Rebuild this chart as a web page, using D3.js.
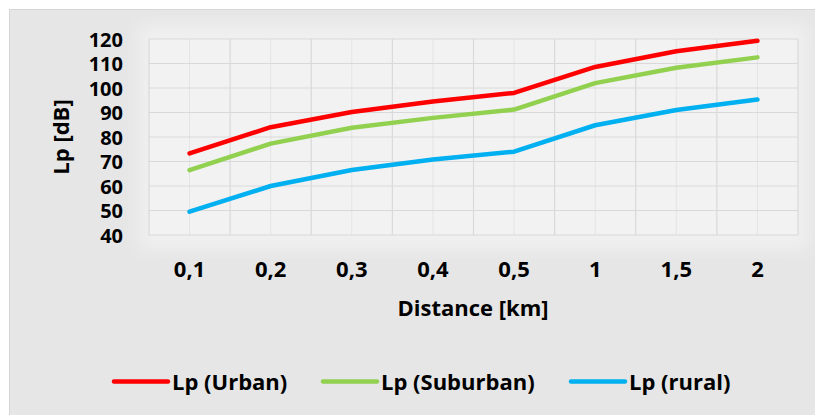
<!DOCTYPE html>
<html>
<head>
<meta charset="utf-8">
<script src="https://cdn.jsdelivr.net/npm/d3@7"></script>
<style>
  html, body { margin: 0; padding: 0; background: #ffffff; }
  svg { display: block; }
  text { font-family: "Open Sans", Lato, sans-serif; font-weight: bold; fill: #000; }
</style>
</head>
<body>
<svg id="chart" width="815" height="415"></svg>
<script>
const categories = ["0,1", "0,2", "0,3", "0,4", "0,5", "1", "1,5", "2"];
const urban    = [73.3, 84.0, 90.2, 94.5, 98.0, 108.6, 115.0, 119.3];
const suburban = [66.5, 77.3, 83.8, 87.8, 91.2, 102.0, 108.3, 112.5];
const rural    = [49.5, 60.0, 66.5, 70.8, 74.0, 84.8, 91.0, 95.3];
const yTicks   = [40, 50, 60, 70, 80, 90, 100, 110, 120];
const seriesNames  = ["Lp (Urban)", "Lp (Suburban)", "Lp (rural)"];
const seriesColors = ["#ff0000", "#92d050", "#00b0f0"];
const seriesData   = [urban, suburban, rural];

const svg = d3.select("#chart");
const W = 815, H = 415;
const plot = { left: 149, top: 39, right: 798, bottom: 235 };

// defs
const defs = svg.append("defs");
const blur = defs.append("filter").attr("id", "glow").attr("x", "-20%").attr("y", "-20%").attr("width", "140%").attr("height", "140%");
blur.append("feGaussianBlur").attr("stdDeviation", 8);

// outer chart background
svg.append("rect").attr("x", 9.5).attr("y", 9.5).attr("width", W).attr("height", H)
  .attr("fill", "#e6e6e6").attr("stroke", "#d6d6d6").attr("stroke-width", 1);

// soft lighter glow around plot area
svg.append("rect").attr("x", plot.left - 10).attr("y", plot.top - 14)
  .attr("width", plot.right - plot.left + 20).attr("height", plot.bottom - plot.top + 28)
  .attr("fill", "#f0f0f0").attr("filter", "url(#glow)");

// plot background
svg.append("rect").attr("x", plot.left).attr("y", plot.top)
  .attr("width", plot.right - plot.left).attr("height", plot.bottom - plot.top)
  .attr("fill", "#f2f2f2");

const x = d3.scaleBand().domain(categories).range([plot.left, plot.right]).paddingInner(0).paddingOuter(0);
const y = d3.scaleLinear().domain([40, 120]).range([plot.bottom, plot.top]);
const cx = d => x(d) + x.bandwidth() / 2;

const grid = svg.append("g");
// minor vertical gridlines at category centers
categories.forEach(c => {
  grid.append("line").attr("x1", cx(c)).attr("x2", cx(c)).attr("y1", plot.top).attr("y2", plot.bottom)
    .attr("stroke", "#e4e4e4").attr("stroke-width", 1);
});
// major vertical gridlines at category boundaries
categories.forEach(c => {
  const xx = x(c);
  grid.append("line").attr("x1", xx).attr("x2", xx).attr("y1", plot.top).attr("y2", plot.bottom)
    .attr("stroke", "#d9d9d9").attr("stroke-width", 1.2);
});
grid.append("line").attr("x1", plot.right).attr("x2", plot.right).attr("y1", plot.top).attr("y2", plot.bottom)
  .attr("stroke", "#d9d9d9").attr("stroke-width", 1.2);
// horizontal gridlines
yTicks.forEach(t => {
  grid.append("line").attr("x1", plot.left).attr("x2", plot.right).attr("y1", y(t)).attr("y2", y(t))
    .attr("stroke", "#d9d9d9").attr("stroke-width", 1.2);
});

// Y axis labels
const yAxis = d3.axisLeft(y).tickValues(yTicks).tickSize(0).tickPadding(0).tickFormat(d3.format("d"));
const yg = svg.append("g").attr("transform", `translate(${123},0)`).call(yAxis);
yg.select(".domain").remove();
yg.selectAll("text").attr("font-size", 20).attr("font-family", "'Liberation Sans', Arial, sans-serif")
  .attr("font-weight", "bold").attr("fill", "#000").attr("dy", "0.36em");

// X axis labels
const xAxis = d3.axisBottom(x).tickSize(0).tickPadding(0);
const xg = svg.append("g").attr("transform", `translate(0,${277})`).call(xAxis);
xg.select(".domain").remove();
xg.selectAll("text").attr("font-size", 22).attr("font-family", "'Open Sans', Lato, sans-serif")
  .attr("font-weight", "bold").attr("fill", "#000").attr("dy", 0);

// Axis titles
svg.append("text").attr("transform", "translate(69,137) rotate(-90)").attr("text-anchor", "middle")
  .attr("font-size", 22).text("Lp [dB]");
svg.append("text").attr("x", 473).attr("y", 316).attr("text-anchor", "middle")
  .attr("font-size", 22).text("Distance [km]");

// Lines
const line = d3.line().x((d, i) => cx(categories[i])).y(d => y(d));
seriesData.forEach((s, k) => {
  svg.append("path").datum(s).attr("d", line).attr("fill", "none")
    .attr("stroke", seriesColors[k]).attr("stroke-width", 4.5)
    .attr("stroke-linecap", "round").attr("stroke-linejoin", "round");
});

// Legend
const legendX = [114, 323, 571];
const lg = svg.append("g");
seriesNames.forEach((n, k) => {
  lg.append("line").attr("x1", legendX[k]).attr("x2", legendX[k] + 54).attr("y1", 381.5).attr("y2", 381.5)
    .attr("stroke", seriesColors[k]).attr("stroke-width", 4.5).attr("stroke-linecap", "round");
  lg.append("text").attr("x", legendX[k] + 58).attr("y", 390).attr("font-size", 22).text(n);
});
</script>
</body>
</html>
